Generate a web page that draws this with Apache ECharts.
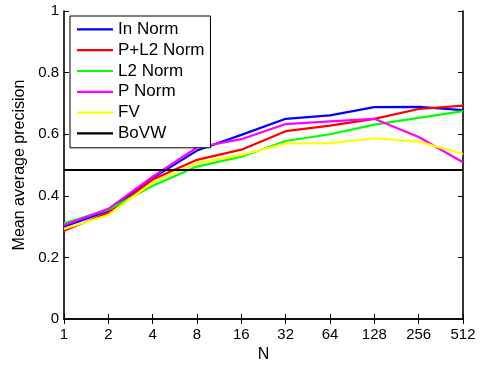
<!DOCTYPE html>
<html>
<head>
<meta charset="utf-8">
<script src="https://cdn.jsdelivr.net/npm/echarts@6/dist/echarts.min.js"></script>
<style>
html,body{margin:0;padding:0;background:#fff;}
#chart{width:480px;height:368px;}
</style>
</head>
<body>
<div id="chart"></div>
<script>
var categories = ['1','2','4','8','16','32','64','128','256','512'];
var inNorm   = [0.300, 0.352, 0.458, 0.547, 0.598, 0.650, 0.661, 0.688, 0.689, 0.678];
var pL2Norm  = [0.287, 0.345, 0.453, 0.517, 0.550, 0.610, 0.628, 0.650, 0.682, 0.693];
var l2Norm   = [0.311, 0.355, 0.433, 0.495, 0.527, 0.578, 0.600, 0.631, 0.653, 0.675];
var pNorm    = [0.305, 0.358, 0.462, 0.557, 0.584, 0.633, 0.642, 0.650, 0.591, 0.509];
var fv       = [0.293, 0.338, 0.444, 0.507, 0.533, 0.570, 0.571, 0.587, 0.576, 0.536];
var bovw     = [0.484, 0.484, 0.484, 0.484, 0.484, 0.484, 0.484, 0.484, 0.484, 0.484];
var yTicks   = [0, 0.2, 0.4, 0.6, 0.8, 1];

var FONT = '"Liberation Sans", Arial, Helvetica, sans-serif';
var chart = echarts.init(document.getElementById('chart'), null, {renderer: 'canvas'});

function mk(name, data, color) {
  return {
    name: name, type: 'line', data: data,
    xAxisIndex: 0, yAxisIndex: 0,
    symbol: 'none', showSymbol: false, animation: false,
    lineStyle: {color: color, width: 2.2},
    itemStyle: {color: color}
  };
}

var axisLineStyle = {color: '#000', width: 1.6};

chart.setOption({
  animation: false,
  backgroundColor: '#fff',
  textStyle: {fontFamily: FONT},
  grid: {left: 64, right: 17, top: 11, bottom: 43, containLabel: false},
  legend: {
    orient: 'vertical',
    left: 70, top: 16,
    icon: 'rect',
    itemWidth: 36, itemHeight: 2.2,
    itemGap: 0,
    padding: [3, 6, 4, 7],
    borderColor: '#000', borderWidth: 1,
    backgroundColor: '#fff',
    textStyle: {fontFamily: FONT, fontSize: 17, color: '#000', lineHeight: 20.8},
    data: ['In Norm', 'P+L2 Norm', 'L2 Norm', 'P Norm', 'FV', 'BoVW']
  },
  xAxis: [{
    type: 'category', data: categories, boundaryGap: false,
    position: 'bottom',
    name: 'N', nameLocation: 'middle', nameGap: 27,
    nameTextStyle: {fontFamily: FONT, fontSize: 16, color: '#000'},
    axisLine: {show: true, lineStyle: axisLineStyle},
    axisTick: {show: true, inside: true, length: 5, lineStyle: {color: '#000', width: 1}},
    axisLabel: {fontFamily: FONT, fontSize: 15, color: '#000', margin: 8, interval: 0},
    splitLine: {show: false}
  }, {
    type: 'category', data: categories, boundaryGap: false,
    position: 'top',
    axisLine: {show: true, lineStyle: axisLineStyle},
    axisTick: {show: true, inside: true, length: 5, lineStyle: {color: '#000', width: 1}},
    axisLabel: {show: false},
    splitLine: {show: false}
  }],
  yAxis: [{
    type: 'value', min: 0, max: 1, interval: 0.2,
    position: 'left',
    name: 'Mean average precision', nameLocation: 'middle', nameGap: 35,
    nameTextStyle: {fontFamily: FONT, fontSize: 16, color: '#000'},
    axisLine: {show: true, lineStyle: axisLineStyle},
    axisTick: {show: true, inside: true, length: 5, lineStyle: {color: '#000', width: 1}},
    axisLabel: {fontFamily: FONT, fontSize: 15, color: '#000', margin: 5,
      formatter: function (v) { return yTicks.indexOf(v) >= 0 ? String(v) : ''; }},
    splitLine: {show: false}
  }, {
    type: 'value', min: 0, max: 1, interval: 0.2,
    position: 'right',
    axisLine: {show: true, lineStyle: axisLineStyle},
    axisTick: {show: true, inside: true, length: 5, lineStyle: {color: '#000', width: 1}},
    axisLabel: {show: false},
    splitLine: {show: false}
  }],
  series: [
    mk('In Norm', inNorm, '#0000ff'),
    mk('P+L2 Norm', pL2Norm, '#ff0000'),
    mk('L2 Norm', l2Norm, '#00ff00'),
    mk('P Norm', pNorm, '#ff00ff'),
    mk('FV', fv, '#ffff00'),
    mk('BoVW', bovw, '#000000')
  ]
});
</script>
</body>
</html>
